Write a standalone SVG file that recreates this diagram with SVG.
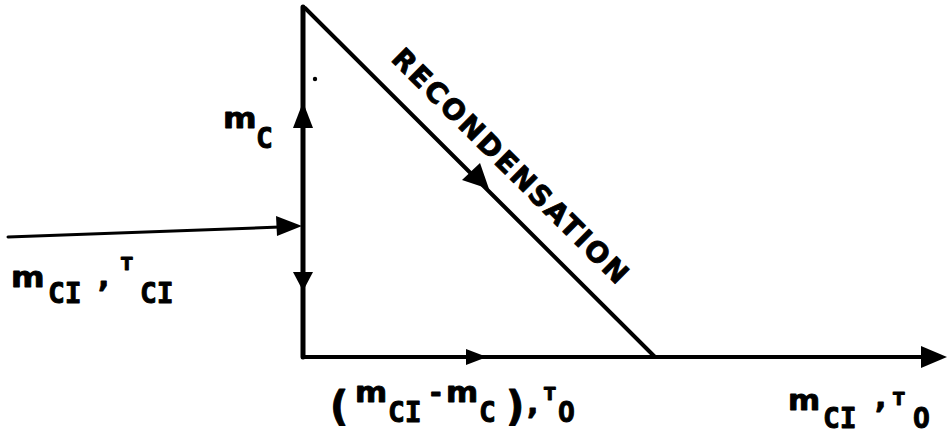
<svg xmlns="http://www.w3.org/2000/svg" width="948" height="439" viewBox="0 0 948 439">
<style>
.ln{stroke:#000;fill:none;stroke-linecap:round}
.ah{fill:#000;stroke:none}
text{fill:#000;font-weight:bold;stroke:#000;stroke-width:0.9px;stroke-linejoin:round}
.m{font-family:"DejaVu Sans","Liberation Sans",sans-serif;font-size:28px}
.s{font-family:"DejaVu Sans Mono","Liberation Mono",monospace;font-size:28px}
.t{font-family:"DejaVu Sans","Liberation Sans",sans-serif;font-size:17px}
.p{font-family:"DejaVu Sans","Liberation Sans",sans-serif;font-size:40px}
.c{font-family:"DejaVu Sans","Liberation Sans",sans-serif;font-size:30px}
.r{font-family:"DejaVu Sans","Liberation Sans",sans-serif;font-size:28px}
</style>
<rect width="948" height="439" fill="#fff"/>
<g id="connectors">
  <line class="ln" x1="303" y1="7" x2="303" y2="357" stroke-width="5"/>
  <line class="ln" x1="305" y1="8" x2="655" y2="357" stroke-width="4"/>
  <line class="ln" x1="303" y1="357" x2="925" y2="357" stroke-width="4"/>
  <line class="ln" x1="8" y1="237" x2="280" y2="227" stroke-width="3"/>
  <polygon class="ah" points="303,102 293,128 313,128"/>
  <polygon class="ah" points="302,226 276,216 277,236"/>
  <polygon class="ah" points="303,291 293,272 313,272"/>
  <polygon class="ah" points="489,189 462,180 480,163"/>
  <polygon class="ah" points="487,357 466,349 466,365"/>
  <polygon class="ah" points="947,357 921,346 921,368"/>
  <circle cx="315" cy="79" r="2.2" fill="#000"/>
</g>
<g id="recondensation">
  <text class="r" transform="translate(390,60) rotate(44.84)" textLength="320" lengthAdjust="spacing">RECONDENSATION</text>
</g>
<g id="label-mc">
  <text class="m" transform="translate(223,128) scale(1.15,1)">m</text>
  <text class="s" x="256" y="148">C</text>
</g>
<g id="label-inlet">
  <text class="m" transform="translate(11,287) scale(1.15,1)">m</text>
  <text class="s" x="48" y="303">CI</text>
  <text class="c" x="98" y="287">,</text>
  <text class="t" x="121" y="270">T</text>
  <text class="s" x="140" y="303">CI</text>
</g>
<g id="label-bypass">
  <text class="p" x="330" y="420">(</text>
  <text class="m" transform="translate(355,402) scale(1.1,1)">m</text>
  <text class="s" x="388" y="422">CI</text>
  <text class="m" x="430" y="402">-</text>
  <text class="m" transform="translate(446,402) scale(1.1,1)">m</text>
  <text class="s" x="479" y="422">C</text>
  <text class="p" x="506" y="420">)</text>
  <text class="c" x="527" y="414">,</text>
  <text class="t" x="544" y="400">T</text>
  <text class="s" x="558" y="422">O</text>
</g>
<g id="label-outlet">
  <text class="m" transform="translate(788,410) scale(1.1,1)">m</text>
  <text class="s" x="823" y="428">CI</text>
  <text class="c" x="875" y="408">,</text>
  <text class="t" x="893" y="405">T</text>
  <text class="s" x="913" y="428">O</text>
</g>
</svg>
